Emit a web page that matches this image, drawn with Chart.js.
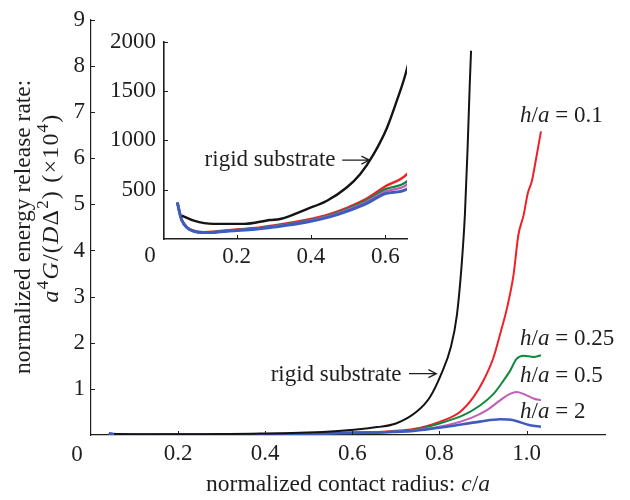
<!DOCTYPE html>
<html>
<head>
<meta charset="utf-8">
<script src="https://cdn.jsdelivr.net/npm/chart.js@4.4.0/dist/chart.umd.min.js"></script>
<style>
  body { margin: 0; background: #fff; }
  #wrap { position: relative; width: 630px; height: 500px; }
  #main { position: absolute; left: 0; top: 0; }
  #inset { position: absolute; left: 100px; top: 20px; }
</style>
</head>
<body>
<div id="wrap">
  <canvas id="main" width="630" height="500"></canvas>
  <canvas id="inset" width="320" height="260"></canvas>
</div>
<script>
// contact radius c/a and energy release rate (raw units, main plot shows /1e4)
const cRigid = [0.053, 0.085, 0.138, 0.219, 0.29, 0.317, 0.389, 0.443, 0.496, 0.532, 0.568, 0.604, 0.63, 0.657,
                0.70, 0.748, 0.778, 0.804, 0.826, 0.84, 0.851, 0.8585, 0.8645, 0.8695, 0.8725];
const gRigid = [237, 186, 153, 153, 193, 203, 304, 388, 522, 656, 858, 1126, 1395, 1714,
                2500, 5100, 8200, 13200, 19000, 26000, 37000, 48000, 62000, 76000, 83300];

const cLow = [0.041, 0.047, 0.053, 0.067, 0.085, 0.11, 0.14, 0.18, 0.25, 0.30, 0.39, 0.45, 0.50, 0.55, 0.60, 0.657];

const cH01 = cLow.concat([0.70, 0.74, 0.80, 0.847, 0.878, 0.901, 0.924, 0.939, 0.955, 0.97, 0.981, 0.993, 1.003, 1.012, 1.022, 1.033]);
const gH01 = [370, 270, 192, 118, 83, 70, 74, 90, 112, 138, 195, 252, 322, 410, 535, 656,
              900, 1300, 2850, 5000, 8200, 11800, 16800, 21800, 27500, 34700, 43300, 47600, 52500, 55000, 60000, 65800];

const cH025 = cLow.concat([0.70, 0.74, 0.80, 0.855, 0.893, 0.924, 0.947, 0.962, 0.977, 0.993, 1.016, 1.033]);
const gH025 = [370, 268, 190, 116, 81, 68, 71, 86, 106, 130, 185, 240, 308, 392, 505, 582,
               800, 1100, 2500, 4300, 6400, 8900, 11800, 13900, 16500, 17200, 16900, 17300];

const cH05 = cLow.concat([0.70, 0.74, 0.817, 0.87, 0.909, 0.939, 0.962, 0.977, 0.993, 1.016, 1.033]);
const gH05 = [370, 267, 189, 115, 80, 67, 69, 84, 103, 126, 180, 233, 298, 378, 482, 549,
              750, 1000, 2100, 3600, 5400, 7500, 8900, 9300, 8900, 7900, 7500];

const cH2 = cLow.concat([0.70, 0.74, 0.817, 0.893, 0.939, 0.97, 1.008, 1.033]);
const gH2 = [370, 266, 188, 114, 79, 66, 67, 81, 99, 121, 172, 224, 286, 362, 460, 505,
             680, 900, 1800, 2900, 3400, 3200, 2100, 1800];

const seriesLabels = ['0.1', '0.25', '0.5', '2'];
const mainXTicks = [0.2, 0.4, 0.6, 0.8, 1.0];
const mainYTicks = [1, 2, 3, 4, 5, 6, 7, 8, 9];
const insetXTicks = [0.2, 0.4, 0.6];
const insetYTicks = [500, 1000, 1500, 2000];

const FAMILY = '"Liberation Serif", "Times New Roman", serif';
const INK = '#1e1e1e';
const FS = 23;

function fontFor(p, size) {
    const it = p[1] === 'i';
    const sup = p[1] === 's';
    return (it ? 'italic ' : '') + (sup ? Math.round(size * 0.72) : size) + 'px ' + FAMILY;
}

// text runs: [text, ''|'i'|'s'], gap = extra px after every glyph
function drawRich(ctx, parts, x, y, size, align, gap) {
    gap = gap || 0;
    let w = 0;
    parts.forEach(p => {
        ctx.font = fontFor(p, size);
        w += ctx.measureText(p[0]).width + gap * p[0].length;
    });
    let cx = align === 'center' ? x - w / 2 : (align === 'right' ? x - w : x);
    ctx.textAlign = 'left';
    ctx.textBaseline = 'middle';
    ctx.fillStyle = INK;
    parts.forEach(p => {
        ctx.font = fontFor(p, size);
        const yy = p[1] === 's' ? y - size * 0.34 : y;
        for (const ch of p[0]) {
            ctx.fillText(ch, cx, yy);
            cx += ctx.measureText(ch).width + gap;
        }
    });
}

function drawArrow(ctx, x1, y, x2) {
    ctx.beginPath();
    ctx.moveTo(x1, y);
    ctx.lineTo(x2, y);
    ctx.moveTo(x2 - 8, y - 4);
    ctx.lineTo(x2, y);
    ctx.lineTo(x2 - 8, y + 4);
    ctx.strokeStyle = INK;
    ctx.lineWidth = 1.2;
    ctx.stroke();
}

function pts(xs, ys, k) {
    return xs.map((x, i) => ({ x: x, y: ys[i] / k }));
}

function makeDatasets(k, wide) {
    const w = wide ? 2.4 : 2;
    return [
        { data: pts(cRigid, gRigid, k), borderColor: '#141414', borderWidth: w },
        { data: pts(cH2, gH2, k), borderColor: '#3d5cbd', borderWidth: w + 0.6 },
        { data: pts(cH05, gH05, k), borderColor: '#c45cb9', borderWidth: w },
        { data: pts(cH025, gH025, k), borderColor: '#0f8a3d', borderWidth: w },
        { data: pts(cH01, gH01, k), borderColor: '#ee2128', borderWidth: w }
    ];
}

// inward tick marks + the shared "0" at the origin
function axisDecor(origin) {
    return {
        id: 'axisDecor',
        afterDraw(chart) {
            const { ctx, chartArea, scales } = chart;
            ctx.save();
            ctx.strokeStyle = INK;
            ctx.lineWidth = 1;
            ctx.beginPath();
            scales.x.ticks.forEach(t => {
                const px = Math.round(scales.x.getPixelForValue(t.value)) + 0.5;
                ctx.moveTo(px, chartArea.bottom);
                ctx.lineTo(px, chartArea.bottom - 4);
            });
            scales.y.ticks.forEach(t => {
                const py = Math.round(scales.y.getPixelForValue(t.value)) + 0.5;
                ctx.moveTo(chartArea.left, py);
                ctx.lineTo(chartArea.left + 4, py);
            });
            ctx.stroke();
            ctx.font = FS + 'px ' + FAMILY;
            ctx.fillStyle = INK;
            ctx.textAlign = 'center';
            ctx.textBaseline = 'middle';
            ctx.fillText('0', chartArea.left + origin[0], chartArea.bottom + origin[1]);
            ctx.restore();
        }
    };
}

const mainNotes = {
    id: 'mainNotes',
    afterDraw(chart) {
        const { ctx, scales } = chart;
        const X = v => scales.x.getPixelForValue(v);
        const Y = v => scales.y.getPixelForValue(v);
        ctx.save();
        drawRich(ctx, [['rigid substrate', '']], X(0.713), Y(1.31), FS, 'right');
        drawArrow(ctx, X(0.73), Y(1.33), X(0.793));
        const ys = [6.91, 2.08, 1.29, 0.49];
        seriesLabels.forEach((lab, i) => {
            drawRich(ctx, [['h', 'i'], ['/', ''], ['a', 'i'], [' = ' + lab, '']], X(0.985), Y(ys[i]), FS, 'left');
        });
        // axis titles
        drawRich(ctx, [['normalized contact radius: ', ''], ['c', 'i'], ['/', ''], ['a', 'i']], 348, 485, 23.5, 'center');
        ctx.translate(24, 227);
        ctx.rotate(-Math.PI / 2);
        drawRich(ctx, [['normalized energy release rate:', '']], 0, 0, 23.5, 'center');
        ctx.restore();
        ctx.save();
        ctx.translate(52, 208);
        ctx.rotate(-Math.PI / 2);
        drawRich(ctx, [['a', 'i'], ['4', 's'], ['G', 'i'], ['/(', ''], ['D', 'i'], ['\u0394', ''], ['2', 's'],
                       [') (\u00d710', ''], ['4', 's'], [')', '']], 0, 0, 24, 'center', 1.2);
        ctx.restore();
    }
};

const insetNotes = {
    id: 'insetNotes',
    afterDraw(chart) {
        const { ctx, scales } = chart;
        const X = v => scales.x.getPixelForValue(v);
        const Y = v => scales.y.getPixelForValue(v);
        ctx.save();
        drawRich(ctx, [['rigid substrate', '']], X(0.466), Y(800), FS, 'right');
        drawArrow(ctx, X(0.484), Y(800), X(0.557));
        ctx.restore();
    }
};

function scaleOpts(min, max, tickList, fixed, pad, fmt, bw) {
    return {
        type: 'linear',
        min: min,
        max: max,
        afterBuildTicks(s) { s.ticks = tickList.map(v => ({ value: v })); },
        afterFit(s) { if (s.isHorizontal()) s.height = fixed; else s.width = fixed; },
        grid: { display: false, drawTicks: false },
        border: { display: true, color: INK, width: bw },
        ticks: {
            padding: pad,
            color: INK,
            maxRotation: 0,
            autoSkip: false,
            font: { family: FAMILY, size: FS },
            callback: fmt
        }
    };
}

new Chart(document.getElementById('main'), {
    type: 'line',
    data: { datasets: makeDatasets(10000, false) },
    options: {
        responsive: false,
        animation: false,
        layout: { padding: { top: 16, right: 25, left: 0, bottom: 0 } },
        elements: { point: { radius: 0 }, line: { cubicInterpolationMode: 'monotone' } },
        plugins: { legend: { display: false }, tooltip: { enabled: false } },
        scales: {
            x: scaleOpts(0, 1.18, mainXTicks, 65, 5, v => v.toFixed(1), 1.2),
            y: scaleOpts(0, 9, mainYTicks, 91, 6, v => String(v), 1.2)
        }
    },
    plugins: [axisDecor([-14, 20]), mainNotes]
});

new Chart(document.getElementById('inset'), {
    type: 'line',
    data: { datasets: makeDatasets(1, true) },
    options: {
        responsive: false,
        animation: false,
        layout: { padding: { top: 19, right: 13, left: 0, bottom: 0 } },
        elements: { point: { radius: 0 }, line: { cubicInterpolationMode: 'monotone' } },
        plugins: { legend: { display: false }, tooltip: { enabled: false } },
        scales: {
            x: scaleOpts(0.005, 0.658, insetXTicks, 41, 4, v => v.toFixed(1), 1.6),
            y: scaleOpts(0, 2000, insetYTicks, 64, 8, v => String(v), 1.6)
        }
    },
    plugins: [axisDecor([-14, 17]), insetNotes]
});
</script>
</body>
</html>
